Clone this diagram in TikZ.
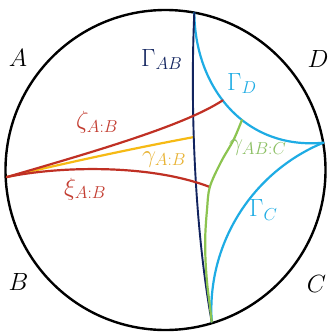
\documentclass[tikz,border=0pt]{standalone}
\usepackage{amsmath}
\definecolor{navyc}{RGB}{18,36,95}
\definecolor{cyanc}{RGB}{30,172,228}
\definecolor{redc}{RGB}{192,48,36}
\definecolor{yellowc}{RGB}{246,186,20}
\definecolor{greenc}{RGB}{140,196,80}
\definecolor{redl}{RGB}{195,60,48}
\definecolor{yellowl}{RGB}{232,178,50}
\definecolor{greenl}{RGB}{140,192,100}
\begin{document}
\begin{tikzpicture}[x=1pt,y=-1pt,line cap=round,
  curve/.style={line width=2.2pt},
  lbl/.style={inner sep=0pt,font=\fontsize{25}{30}\selectfont}]
\useasboundingbox (0,0) rectangle (329,335);
\fill[white] (0,0) rectangle (329,335);
\coordinate (O) at (165.5,170);
\coordinate (T) at (194.3,12.7);
\coordinate (R) at (323.3,142.7);
\coordinate (Bt) at (211.7,321.7);
\coordinate (L) at (7,177);
\coordinate (Xg) at (209.8,187);
% boundary
\draw[line width=2.4pt] (O) circle[radius=160pt];
% Gamma_D
\draw[curve,cyanc] (T) .. controls (195,88) and (245,150) .. coordinate[pos=0.445] (Zd) coordinate[pos=0.585] (Gd) (R);
% Gamma_C
\draw[curve,cyanc] (R) .. controls (251.7,172.3) and (206.7,244.4) .. (Bt);
% yellow gamma_A:B (under navy)
\path (T) .. controls (190,110) and (195,230) .. coordinate[pos=0.4] (Ya) (Bt);
\draw[curve,yellowc] (L) .. controls (70,162) and (135,148) .. (Ya);
% Gamma_AB
\draw[line width=1.9pt,navyc] (T) .. controls (190,110) and (195,230) .. (Bt);
% zeta
\draw[curve,redc] (L) .. controls (100,150) and (185,125) .. (Zd);
% xi
\draw[curve,redc] (L) .. controls (60,166) and (150,164) .. (Xg);
% gamma_AB:C
\draw[curve,greenc] plot[smooth,tension=0.55] coordinates {(Gd) (233.5,140) (221,162) (Xg) (207,210) (205.3,235) (205.5,260) (207.3,285) (209.8,305) (Bt)};
% labels
\node[lbl] (lA) at (18,57.5) {$A$};
\node[lbl] (lD) at (318,58.5) {$D$};
\node[lbl] (lB) at (18.5,282) {$B$};
\node[lbl] (lC) at (316.5,283.5) {$C$};
\node[lbl,anchor=base west,text=navyc] (lGab) at (141,66) {$\Gamma_{AB}$};
\node[lbl,anchor=base west,text=cyanc] (lGd) at (227,90) {$\Gamma_{D}$};
\node[lbl,anchor=base west,text=cyanc] (lGc) at (249,216.5) {$\Gamma_{C}$};
\node[lbl,anchor=base west,text=redl] (lz) at (76,128.4) {$\zeta_{A{:}B}$};
\node[lbl,anchor=base west,text=redl] (lx) at (64,195) {$\xi_{A{:}B}$};
\node[lbl,anchor=base west,text=yellowl] (lg) at (142,162) {$\gamma_{A{:}B}$};
\node[lbl,anchor=base west,text=greenl] (lgc) at (229,150.3) {$\gamma_{AB{:}C}$};
\end{tikzpicture}
\end{document}
